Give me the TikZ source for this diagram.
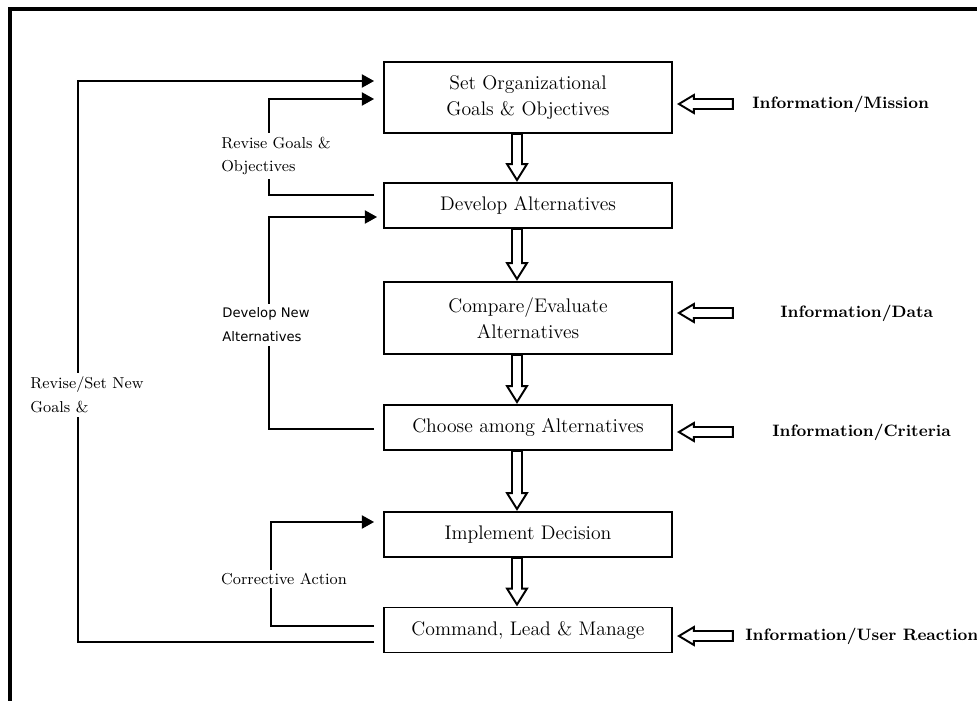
\documentclass[tikz,border=0pt]{standalone}
\usepackage{fontspec}
\setsansfont{DejaVu Sans}
\usetikzlibrary{calc,arrows.meta}

% hollow block arrow, box #1 down to box #2
\newcommand{\hollowdown}[2]{%
  \draw[hollow] ($(#1.south)+(-16,0)$) -- ($(#1.south |- #2.north)+(-16,-18)$)
    -- ++(-5,0) -- ($(#1.south |- #2.north)+(-11,-2)$) -- ++(10,-16) -- ++(-5,0)
    -- ($(#1.south)+(-6,0)$) -- cycle;}
% hollow block arrow, from label #2 into box #1
\newcommand{\hollowleft}[2]{%
  \draw[hollow] ($(#1.east |- #2.west)+(6,0)$) -- ++(15,-9) -- ++(0,4) -- ++(39,0)
    -- ++(0,10) -- ++(-39,0) -- ++(0,4) -- cycle;}

\begin{document}
\begin{tikzpicture}[x=0.02cm,y=-0.02cm,
    process/.style ={rectangle, draw, line width=1.1pt, minimum width=5.76cm,
                     minimum height=0.9cm, inner sep=0pt, align=center,
                     font=\fontsize{11.2}{14.7}\selectfont},
    info/.style ={anchor=west, inner sep=0pt, font=\fontsize{9.4}{11}\selectfont\bfseries},
    note/.style ={fill=white, inner sep=2pt, align=left,
                  font=\fontsize{9}{13.6}\selectfont},
    feedback/.style ={line width=1.1pt, -{Triangle[length=7pt,width=7.5pt]}},
    hollow/.style ={line width=1.1pt, fill=white, line join=miter}]
   \useasboundingbox[fill=white] (0,0) rectangle (977,700);
   \draw[line width=1.9pt] (10,720) -- (10,9) -- (1000,9);

   \node[process, minimum height=1.42cm] (A) at (528,97.5)
        {Set Organizational\\Goals \& Objectives};
   \node[process] (B) at (528,205.5) {Develop Alternatives};
   \node[process, minimum height=1.44cm] (C) at (528,318)
        {Compare/Evaluate\\Alternatives};
   \node[process] (D) at (528,427.5) {Choose among Alternatives};
   \node[process] (E) at (528,534.5) {Implement Decision};
   \node[process] (F) at (528,630) {Command, Lead \& Manage};

   \node[info] (G) at (752,104) {Information/Mission};
   \node[info] (H) at (780,313) {Information/Data};
   \node[info] (I) at (772,432) {Information/Criteria};
   \node[info] (J) at (745,636) {Information/User Reaction};

   \hollowdown{A}{B}
   \hollowdown{B}{C}
   \hollowdown{C}{D}
   \hollowdown{D}{E}
   \hollowdown{E}{F}

   \hollowleft{A}{G}
   \hollowleft{C}{H}
   \hollowleft{D}{I}
   \hollowleft{F}{J}

   \draw[feedback] ($(F.west)+(-9,12)$) -- ++(-296,0) |- ($(A.west)+(-9,-16.5)$);
   \draw[feedback] ($(B.west)+(-9,-10.5)$) -- ++(-105,0) |- ($(A.west)+(-9,1.5)$);
   \draw[feedback] ($(D.west)+(-9,1.5)$) -- ++(-105,0) |- ($(B.west)+(-6,11.5)$);
   \draw[feedback] ($(F.west)+(-9,-4)$) -- ++(-103,0) |- ($(E.west)+(-9,-12.5)$);

   \node[note] (K) at (276,156) {Revise Goals \&\\Objectives};
   \node[note, font=\fontsize{7.5}{13.6}\selectfont\sffamily] (L) at (266,325)
        {Develop New\\Alternatives};
   \node[note] (M) at (87,395) {Revise/Set New\\Goals \&};
   \node[note] (N) at (284,579) {Corrective Action};
 \end{tikzpicture}
\end{document}
